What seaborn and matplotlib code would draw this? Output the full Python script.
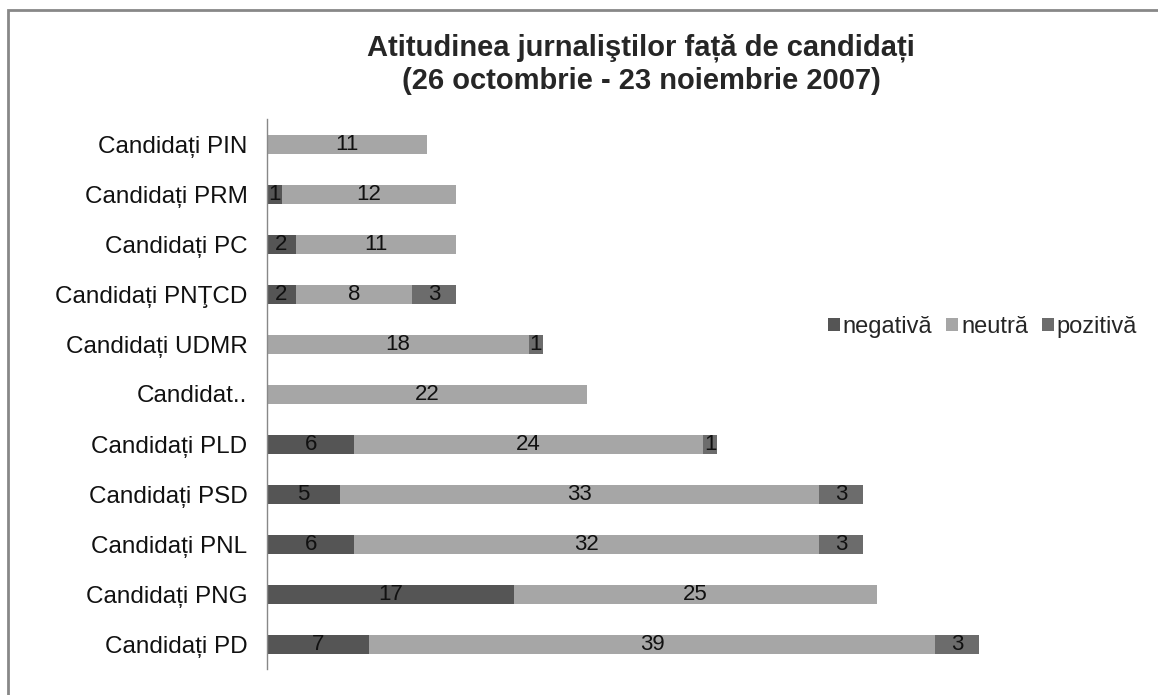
import matplotlib
matplotlib.use("Agg")
import matplotlib.pyplot as plt
import seaborn as sns
import numpy as np
import pandas as pd
from matplotlib.patches import Patch, Rectangle

categories = ["Candidați PIN", "Candidați PRM", "Candidați PC", "Candidați PNŢCD",
              "Candidați UDMR", "Candidat..", "Candidați PLD", "Candidați PSD",
              "Candidați PNL", "Candidați PNG", "Candidați PD"]
negativa = [0, 1, 2, 2, 0, 0, 6, 5, 6, 17, 7]
neutra = [11, 12, 11, 8, 18, 22, 24, 33, 32, 25, 39]
pozitiva = [0, 0, 0, 3, 1, 0, 1, 3, 3, 0, 3]
series_names = ["negativă", "neutră", "pozitivă"]
colors = ["#555555", "#a6a6a6", "#6c6c6c"]

sns.set_style("white")
plt.rcParams['font.family'] = ['Liberation Sans', 'DejaVu Sans']

neg = np.array(negativa)
neu = np.array(neutra)
poz = np.array(pozitiva)
c1 = neg
c2 = neg + neu
c3 = neg + neu + poz

df = pd.DataFrame({"cat": categories, "c1": c1, "c2": c2, "c3": c3})

fig = plt.figure(figsize=(11.58, 6.95), dpi=100)
ax = fig.add_axes([267/1158, 1-669/695, 726.5/1158, 550/695])

w = 0.38
sns.barplot(data=df, x="c3", y="cat", order=categories, color=colors[2], width=w,
            ax=ax, saturation=1, linewidth=0)
sns.barplot(data=df, x="c2", y="cat", order=categories, color=colors[1], width=w,
            ax=ax, saturation=1, linewidth=0)
sns.barplot(data=df, x="c1", y="cat", order=categories, color=colors[0], width=w,
            ax=ax, saturation=1, linewidth=0)

for i in range(len(categories)):
    starts = [0, c1[i], c2[i]]
    vals = [neg[i], neu[i], poz[i]]
    for s, v in zip(starts, vals):
        if v > 0:
            ax.text(s + v / 2, i, str(v), ha="center", va="center",
                    fontsize=16, color="#111111")

ax.set_xlim(0, 50)
ax.set_ylim(len(categories) - 0.5, -0.5)
ax.set_xlabel("")
ax.set_ylabel("")
ax.set_xticks([])
for sp in ["top", "right", "bottom"]:
    ax.spines[sp].set_visible(False)
ax.spines["left"].set_color("#888888")
ax.spines["left"].set_linewidth(1)
ax.set_yticks(np.arange(len(categories)))
ax.set_yticklabels(categories, fontsize=17.5, color="#111111")
ax.set_yticks(np.arange(-0.5, len(categories), 1), minor=True)
ax.tick_params(axis="y", which="major", length=0, pad=14)
ax.tick_params(axis="y", which="minor", length=6, color="#888888", width=1, direction="out")

handles = [Patch(facecolor=c, edgecolor="none") for c in colors]
ax.legend(handles, series_names, loc="center", bbox_to_anchor=(0.985, 0.622),
          ncol=3, frameon=False, fontsize=17, handlelength=0.5, handleheight=0.5,
          handletextpad=0.12, columnspacing=0.6, borderaxespad=0)

fig.text(641/1158, 1-48/695, "Atitudinea jurnaliştilor față de candidați",
         ha="center", va="center", fontsize=21, fontweight="bold")
fig.text(641/1158, 1-81/695, "(26 octombrie - 23 noiembrie 2007)",
         ha="center", va="center", fontsize=21, fontweight="bold")

fig.patches.append(Rectangle((8/1158, -0.1), 1.2, 1-10/695+0.1, transform=fig.transFigure,
                             fill=False, edgecolor="#888888", linewidth=2))

fig.savefig("out.png", dpi=100)
